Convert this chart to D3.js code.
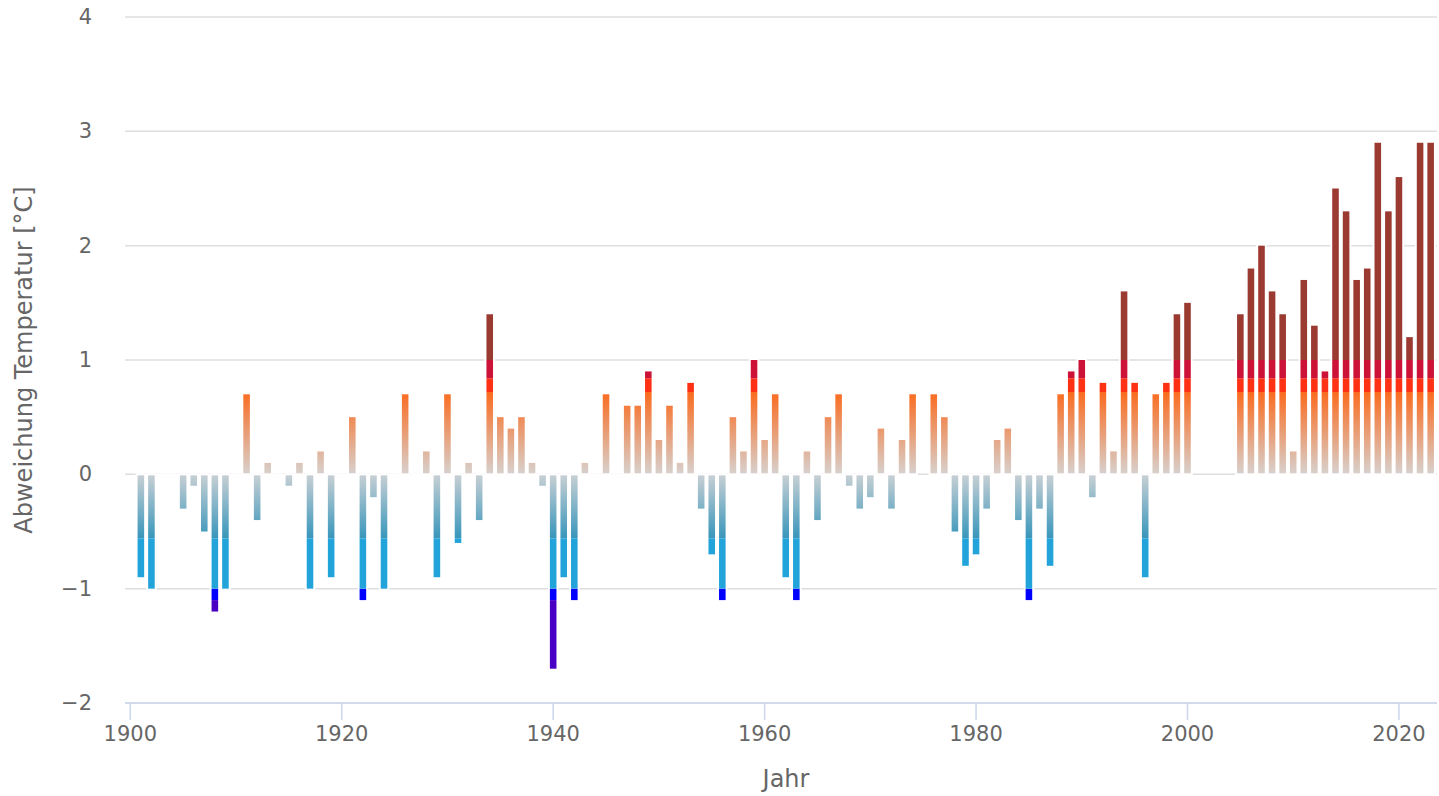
<!DOCTYPE html>
<html>
<head>
<meta charset="utf-8">
<script src="https://cdn.jsdelivr.net/npm/d3@7"></script>
<style>
    body { margin: 0; background: #fff; }
    svg text { font-family: "DejaVu Sans", sans-serif; fill: #666; }
</style>
</head>
<body>
<svg id="chart" width="1439" height="796"></svg>
<script>
// Temperaturabweichung je Jahr, 1901 - 2023 (null = kein Wert)
var years = d3.range(1901, 2024);
var anomalies = [
    -0.9, -1.0, 0, 0, -0.3, -0.1, -0.5, -1.2, -1.0, 0,          // 1901-1910
    0.7, -0.4, 0.1, 0, -0.1, 0.1, -1.0, 0.2, -0.9, 0,           // 1911-1920
    0.5, -1.1, -0.2, -1.0, 0, 0.7, 0, 0.2, -0.9, 0.7,           // 1921-1930
    -0.6, 0.1, -0.4, 1.4, 0.5, 0.4, 0.5, 0.1, -0.1, -1.7,       // 1931-1940
    -0.9, -1.1, 0.1, 0, 0.7, 0, 0.6, 0.6, 0.9, 0.3,             // 1941-1950
    0.6, 0.1, 0.8, -0.3, -0.7, -1.1, 0.5, 0.2, 1.0, 0.3,        // 1951-1960
    0.7, -0.9, -1.1, 0.2, -0.4, 0.5, 0.7, -0.1, -0.3, -0.2,     // 1961-1970
    0.4, -0.3, 0.3, 0.7, null, 0.7, 0.5, -0.5, -0.8, -0.7,      // 1971-1980
    -0.3, 0.3, 0.4, -0.4, -1.1, -0.3, -0.8, 0.7, 0.9, 1.0,      // 1981-1990
    -0.2, 0.8, 0.2, 1.6, 0.8, -0.9, 0.7, 0.8, 1.4, 1.5,         // 1991-2000
    null, null, null, null, 1.4, 1.8, 2.0, 1.6, 1.4, 0.2,       // 2001-2010
    1.7, 1.3, 0.9, 2.5, 2.3, 1.7, 1.8, 2.9, 2.3, 2.6,           // 2011-2020
    1.2, 2.9, 2.9                                               // 2021-2023
];
var yTicks = [-2, -1, 0, 1, 2, 3, 4];
var xTicks = [1900, 1920, 1940, 1960, 1980, 2000, 2020];

// Farbzonen (Grenzen in °C)
var zones = [
    {lo: -Infinity, hi: -1.1, fill: "#4a00c4"},
    {lo: -1.1, hi: -1.0, fill: "#0000ff"},
    {lo: -1.0, hi: -0.56, fill: "#22a4db"},
    {lo: -0.56, hi: 0, fill: "url(#gradNeg)"},
    {lo: 0, hi: 0.72, fill: "url(#gradPos)"},
    {lo: 0.72, hi: 0.84, fill: "#ff3114"},
    {lo: 0.84, hi: 1.0, fill: "#cc1236"},
    {lo: 1.0, hi: Infinity, fill: "#9b3a31"}
];

var data = years.map((yr, i) => ({year: yr, value: anomalies[i]}));

var plot = {left: 125, right: 1437, top: 17, bottom: 703};
var x = d3.scaleLinear().domain([1899.5, 2023.6]).range([plot.left, plot.right]);
var y = d3.scaleLinear().domain([-2, 4]).range([plot.bottom, plot.top]);
var step = x(1901) - x(1900);
var barW = step - 4;

var svg = d3.select("#chart");
var defs = svg.append("defs");

function gradient (id, to, c0, c1) {
    var g = defs.append("linearGradient").attr("id", id)
        .attr("gradientUnits", "userSpaceOnUse")
        .attr("x1", 0).attr("x2", 0)
        .attr("y1", y(0)).attr("y2", y(to));
    g.append("stop").attr("offset", 0).attr("stop-color", c0);
    g.append("stop").attr("offset", 1).attr("stop-color", c1);
}
gradient("gradPos", 0.72, "#d7d1ce", "#fa6b1f");
gradient("gradNeg", -0.56, "#c9d0d4", "#3896bb");

// Gitterlinien
svg.append("g").selectAll("line").data(yTicks).join("line")
    .attr("x1", plot.left).attr("x2", plot.right)
    .attr("y1", d => y(d)).attr("y2", d => y(d))
    .attr("stroke", "#dedede").attr("stroke-width", 1.5);

// Y-Achse Beschriftung
svg.append("g").selectAll("text").data(yTicks).join("text")
    .attr("x", 92).attr("y", d => y(d)).attr("dy", "0.33em")
    .attr("text-anchor", "end").attr("font-size", 21)
    .text(d => d3.format("d")(d));

svg.append("text")
    .attr("transform", "translate(32,360) rotate(-90)")
    .attr("text-anchor", "middle").attr("font-size", 24)
    .text("Abweichung Temperatur [°C]");

// Balken
var bars = svg.append("g").selectAll("g").data(data.filter(d => d.value !== null)).join("g");

bars.append("rect")
    .attr("x", d => x(d.year) - step / 2)
    .attr("y", d => Math.min(y(d.value), y(0)) - 1)
    .attr("width", step)
    .attr("height", d => Math.abs(y(d.value) - y(0)) + 2)
    .attr("fill", "#fff");

bars.each(function (d) {
    var g = d3.select(this);
    var lo = Math.min(0, d.value), hi = Math.max(0, d.value);
    zones.forEach(z => {
        var a = Math.max(lo, z.lo), b = Math.min(hi, z.hi);
        if (b <= a) return;
        var y0 = y(b), y1 = y(a);
        if (a === 0) y1 -= 1;
        if (b === 0) y0 += 1;
        if (y1 <= y0) return;
        g.append("rect")
            .attr("x", x(d.year) - barW / 2)
            .attr("y", y0)
            .attr("width", barW)
            .attr("height", y1 - y0)
            .attr("fill", z.fill);
    });
});

// X-Achse
var xAxis = svg.append("g");
xAxis.append("line")
    .attr("x1", plot.left).attr("x2", plot.right)
    .attr("y1", plot.bottom).attr("y2", plot.bottom)
    .attr("stroke", "#ccd6eb").attr("stroke-width", 1.5);
xAxis.selectAll("line.tick").data(xTicks).join("line")
    .attr("class", "tick")
    .attr("x1", d => x(d)).attr("x2", d => x(d))
    .attr("y1", plot.bottom).attr("y2", plot.bottom + 17)
    .attr("stroke", "#ccd6eb").attr("stroke-width", 1.5);
xAxis.selectAll("text").data(xTicks).join("text")
    .attr("x", d => x(d)).attr("y", 741)
    .attr("text-anchor", "middle").attr("font-size", 21)
    .text(d => d);

svg.append("text")
    .attr("x", (plot.left + plot.right) / 2 + 5).attr("y", 787)
    .attr("text-anchor", "middle").attr("font-size", 24)
    .text("Jahr");
</script>
</body>
</html>
